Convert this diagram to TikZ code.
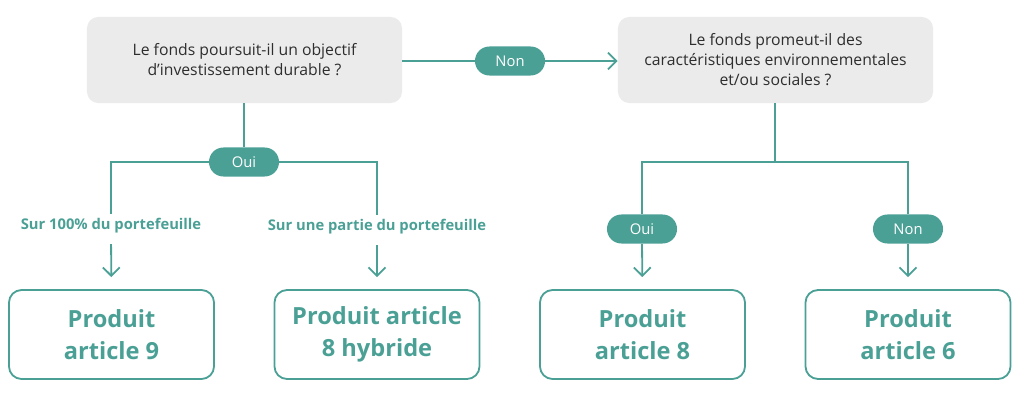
\documentclass[tikz,border=0pt]{standalone}
\usepackage{fontspec}
\setmainfont{Open Sans}
\usepackage{xcolor}
\usepackage{tikz}
\usetikzlibrary{arrows.meta}
\usetikzlibrary{positioning}
\definecolor{teal}{HTML}{4BA096}
\definecolor{boxgrey}{HTML}{EBEBEB}
\definecolor{ink}{HTML}{2E2E2E}
\tikzstyle{question}=[rectangle,rounded corners=8pt,fill=boxgrey,text=ink,align=center,minimum width=7.875cm,minimum height=2.15cm,font=\fontsize{11.2}{14.2}\selectfont]
\tikzstyle{pill}=[rectangle,rounded corners=0.36cm,fill=teal,text=white,minimum width=1.75cm,minimum height=0.725cm,font=\fontsize{10.5}{12}\selectfont]
\tikzstyle{produit}=[rectangle,rounded corners=9pt,draw=teal,line width=1.3pt,text=teal,align=center,minimum width=5.125cm,minimum height=2.225cm,font=\fontsize{16.8}{22.7}\selectfont\bfseries]
\tikzstyle{etiquette}=[text=teal,font=\fontsize{10.5}{12}\selectfont\bfseries]
\tikzstyle{lien}=[draw=teal,line width=1.3pt]
\tikzstyle{fleche}=[lien,-{Straight Barb[length=6pt,width=12pt]},shorten >=8.5pt]

\begin{document}
\begin{tikzpicture}[x=0.025cm,y=-0.025cm]
\useasboundingbox (0,0) rectangle (1024,406);

%questions
\node[question] (q1) at (244.5,60) {Le fonds poursuit-il un objectif\\d’investissement durable ?};
\node[question] (q2) at (775.5,60) {Le fonds promeut-il des\\caractéristiques environnementales\\et/ou sociales ?};

%non -> seconde question
\node[pill] (pnon) at (510,61) {Non};
\draw[lien] (q1.east |- pnon) -- (pnon);
\draw[lien,-{Straight Barb[length=6pt,width=12pt]}] (pnon) -- (q2.west |- pnon);

%branche oui a gauche
\node[pill] (poui) at (244,162) {Oui};
\node[etiquette] (s100) at (111,226) {Sur 100\% du portefeuille};
\node[etiquette] (spartie) at (377,227) {Sur une partie du portefeuille};
\draw[lien] (q1.south -| poui) -- (poui);
\draw[lien] (poui.west) -| (s100.north);
\draw[lien] (poui.east) -| (spartie.north);

%branches a droite
\coordinate (split) at (775,162);
\node[pill] (doui) at (642,229) {Oui};
\node[pill] (dnon) at (908,229) {Non};
\draw[lien] (q2.south -| split) -- (split);
\draw[lien] (split) -| (doui.north);
\draw[lien] (split) -| (dnon.north);

%produits
\node[produit] (a9) at (111.5,334.5) {Produit\\article 9};
\node[produit] (a8h) at (377,334.5) {Produit article\\8 hybride};
\node[produit] (a8) at (642.5,334.5) {Produit\\article 8};
\node[produit] (a6) at (908,334.5) {Produit\\article 6};

\draw[fleche,shorten <=4pt] (s100.south) -- (a9.north);
\draw[fleche,shorten <=4pt] (spartie.south) -- (a8h.north);
\draw[fleche] (doui.south) -- (a8.north);
\draw[fleche] (dnon.south) -- (a6.north);

\end{tikzpicture}
\end{document}
